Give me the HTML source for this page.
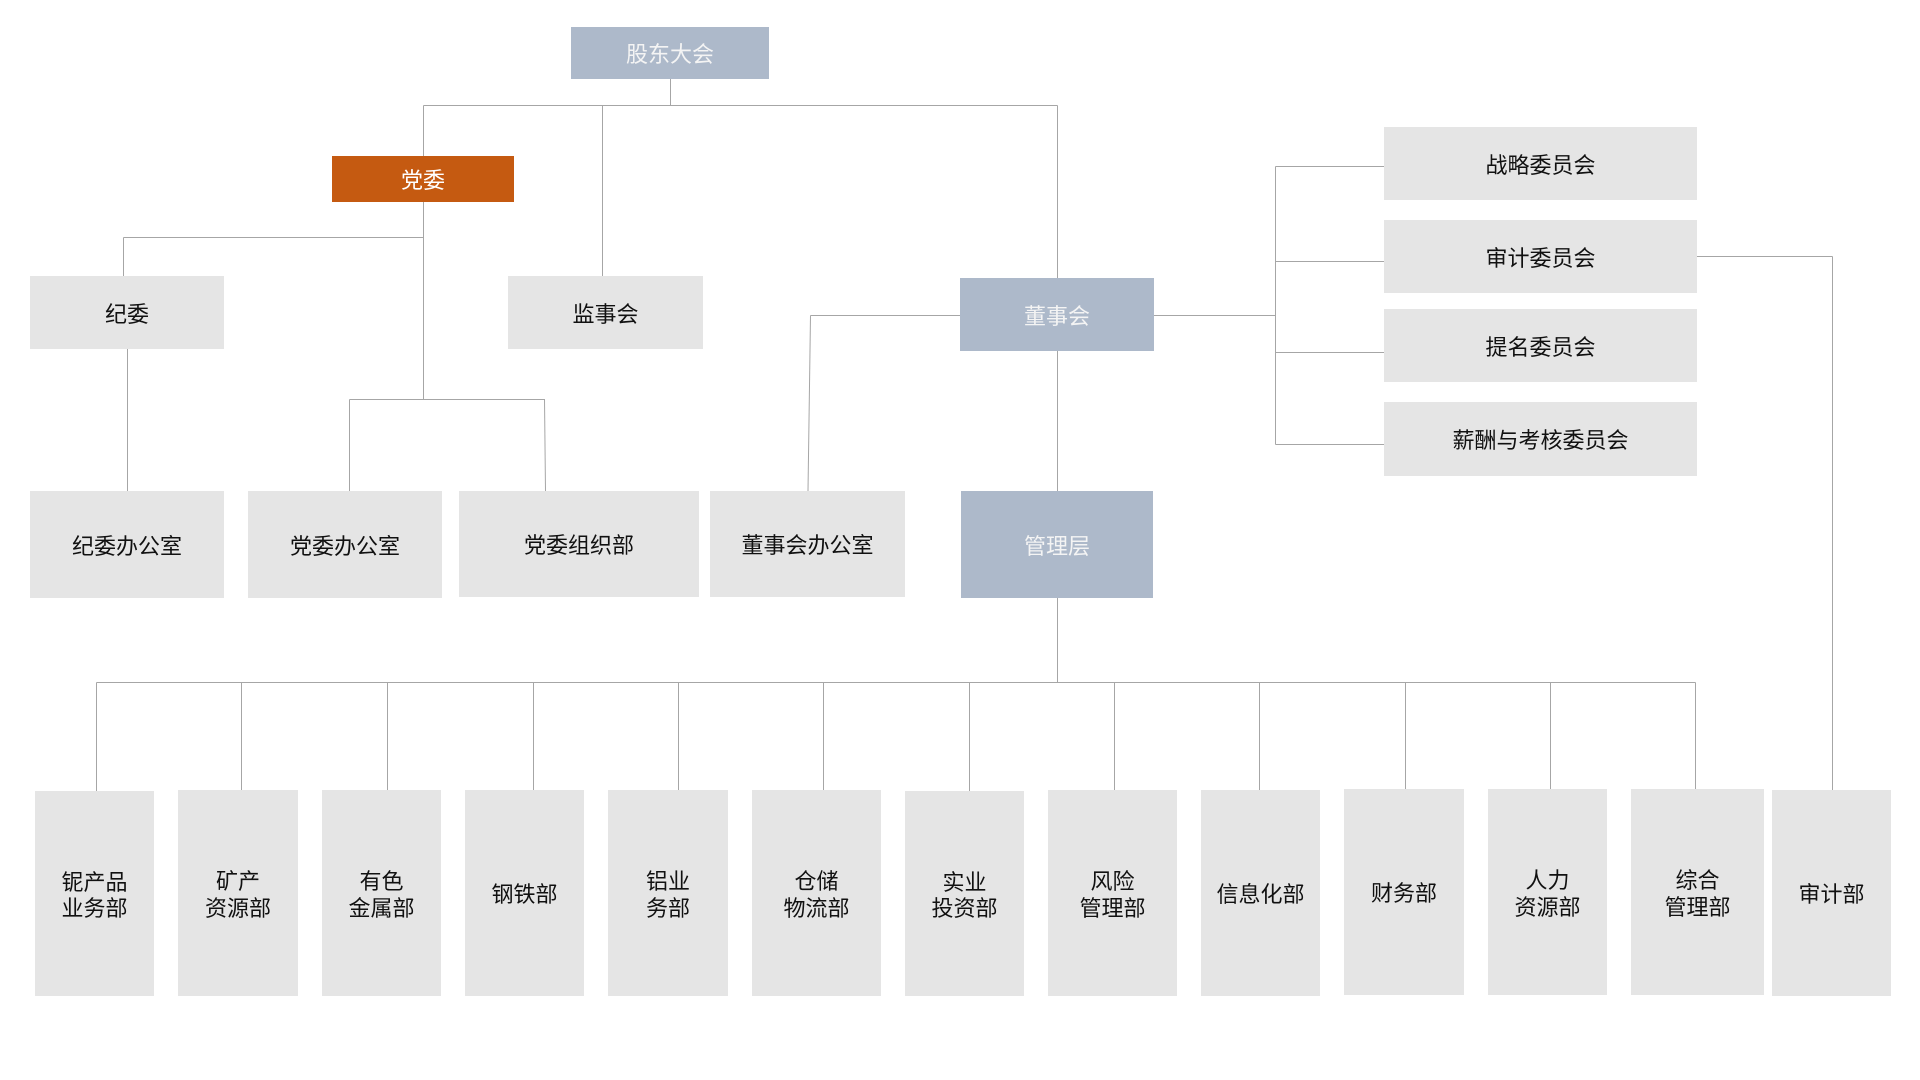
<!DOCTYPE html>
<html>
<head>
<meta charset="utf-8">
<style>
html,body{margin:0;padding:0;background:#fff;}
body{width:1920px;height:1080px;position:relative;overflow:hidden;font-family:"Liberation Sans","Noto Sans CJK SC",sans-serif;}
.b{position:absolute;box-sizing:border-box;padding-top:5px;background:#E5E5E5;color:#111;display:flex;align-items:center;justify-content:center;text-align:center;font-size:22px;line-height:26.5px;}
.blue{background:#ADB9CA;color:#F4F4F4;}
.org{background:#C55A11;color:#FFFFFF;}
svg{position:absolute;left:0;top:0;}
</style>
</head>
<body>
<svg width="1920" height="1080" viewBox="0 0 1920 1080" shape-rendering="crispEdges">
<g stroke="#A6A6A6" stroke-width="1" fill="none">
<line x1="670.5" y1="79" x2="670.5" y2="105.5"/>
<line x1="423.5" y1="105.5" x2="1057.5" y2="105.5"/>
<line x1="423.5" y1="105.5" x2="423.5" y2="156"/>
<line x1="602.5" y1="105.5" x2="602.5" y2="276"/>
<line x1="1057.5" y1="105.5" x2="1057.5" y2="278"/>
<line x1="423.5" y1="202" x2="423.5" y2="399.5"/>
<line x1="123.5" y1="237.5" x2="423.5" y2="237.5"/>
<line x1="123.5" y1="237.5" x2="123.5" y2="276"/>
<line x1="127.5" y1="349" x2="127.5" y2="491"/>
<line x1="349.5" y1="399.5" x2="545" y2="399.5"/>
<line x1="349.5" y1="399.5" x2="349.5" y2="491"/>
<line x1="544.5" y1="399.5" x2="545.5" y2="491" shape-rendering="auto"/>
<line x1="810.5" y1="315.5" x2="960" y2="315.5"/>
<line x1="810.5" y1="315.5" x2="808" y2="491" shape-rendering="auto"/>
<line x1="1154" y1="315.5" x2="1275.5" y2="315.5"/>
<line x1="1275.5" y1="166.5" x2="1275.5" y2="444.5"/>
<line x1="1275.5" y1="166.5" x2="1384" y2="166.5"/>
<line x1="1275.5" y1="261.5" x2="1384" y2="261.5"/>
<line x1="1275.5" y1="352.5" x2="1384" y2="352.5"/>
<line x1="1275.5" y1="444.5" x2="1384" y2="444.5"/>
<line x1="1697" y1="256.5" x2="1832.5" y2="256.5"/>
<line x1="1832.5" y1="256.5" x2="1832.5" y2="790"/>
<line x1="1057.5" y1="351" x2="1057.5" y2="491"/>
<line x1="1057.5" y1="598" x2="1057.5" y2="682.5"/>
<line x1="96.5" y1="682.5" x2="1695.5" y2="682.5"/>
<line x1="96.5" y1="682.5" x2="96.5" y2="791"/>
<line x1="241.5" y1="682.5" x2="241.5" y2="790"/>
<line x1="387.5" y1="682.5" x2="387.5" y2="790"/>
<line x1="533.5" y1="682.5" x2="533.5" y2="790"/>
<line x1="678.5" y1="682.5" x2="678.5" y2="790"/>
<line x1="823.5" y1="682.5" x2="823.5" y2="790"/>
<line x1="969.5" y1="682.5" x2="969.5" y2="791"/>
<line x1="1114.5" y1="682.5" x2="1114.5" y2="790"/>
<line x1="1259.5" y1="682.5" x2="1259.5" y2="790"/>
<line x1="1405.5" y1="682.5" x2="1405.5" y2="789"/>
<line x1="1550.5" y1="682.5" x2="1550.5" y2="789"/>
<line x1="1695.5" y1="682.5" x2="1695.5" y2="789"/>
</g>
</svg>

<div class="b blue" style="left:571px;top:27px;width:198px;height:52px;">股东大会</div>
<div class="b org" style="left:332px;top:156px;width:182px;height:46px;">党委</div>
<div class="b" style="left:30px;top:276px;width:194px;height:73px;">纪委</div>
<div class="b" style="left:508px;top:276px;width:195px;height:73px;">监事会</div>
<div class="b blue" style="left:960px;top:278px;width:194px;height:73px;">董事会</div>

<div class="b" style="left:1384px;top:127px;width:313px;height:73px;">战略委员会</div>
<div class="b" style="left:1384px;top:220px;width:313px;height:73px;">审计委员会</div>
<div class="b" style="left:1384px;top:309px;width:313px;height:73px;">提名委员会</div>
<div class="b" style="left:1384px;top:402px;width:313px;height:74px;">薪酬与考核委员会</div>

<div class="b" style="left:30px;top:491px;width:194px;height:107px;">纪委办公室</div>
<div class="b" style="left:248px;top:491px;width:194px;height:107px;">党委办公室</div>
<div class="b" style="left:459px;top:491px;width:240px;height:106px;">党委组织部</div>
<div class="b" style="left:710px;top:491px;width:195px;height:106px;">董事会办公室</div>
<div class="b blue" style="left:961px;top:491px;width:192px;height:107px;">管理层</div>

<div class="b" style="left:35px;top:791px;width:119px;height:205px;">铌产品<br>业务部</div>
<div class="b" style="left:178px;top:790px;width:120px;height:206px;">矿产<br>资源部</div>
<div class="b" style="left:322px;top:790px;width:119px;height:206px;">有色<br>金属部</div>
<div class="b" style="left:465px;top:790px;width:119px;height:206px;">钢铁部</div>
<div class="b" style="left:608px;top:790px;width:120px;height:206px;">铝业<br>务部</div>
<div class="b" style="left:752px;top:790px;width:129px;height:206px;">仓储<br>物流部</div>
<div class="b" style="left:905px;top:791px;width:119px;height:205px;">实业<br>投资部</div>
<div class="b" style="left:1048px;top:790px;width:129px;height:206px;">风险<br>管理部</div>
<div class="b" style="left:1201px;top:790px;width:119px;height:206px;">信息化部</div>
<div class="b" style="left:1344px;top:789px;width:120px;height:206px;">财务部</div>
<div class="b" style="left:1488px;top:789px;width:119px;height:206px;">人力<br>资源部</div>
<div class="b" style="left:1631px;top:789px;width:133px;height:206px;">综合<br>管理部</div>
<div class="b" style="left:1772px;top:790px;width:119px;height:206px;">审计部</div>
</body>
</html>
